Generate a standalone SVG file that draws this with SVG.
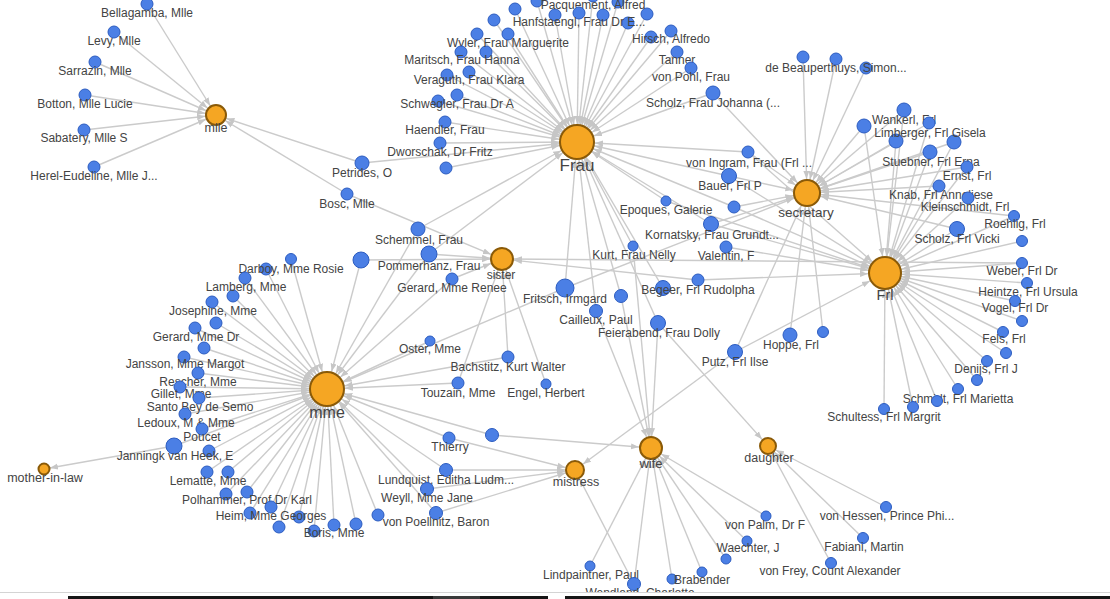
<svg xmlns="http://www.w3.org/2000/svg" width="1110" height="599" viewBox="0 0 1110 599">
<style>
.bg{fill:#fff}
#edges line{stroke:#cbcbcb;stroke-width:1.4;fill:none}
.ah{fill:#c6c6c6}
.n{fill:#4b7fe5;stroke:#2c5cc0;stroke-width:1}
.h{fill:#f5a623;stroke:#8a5a08;stroke-width:2}
text{font-family:"Liberation Sans",Arial,sans-serif;fill:#444;text-anchor:middle}
.t{font-size:12px}
</style>
<defs>
<marker id="a5" viewBox="0 0 20 10" markerUnits="userSpaceOnUse" markerWidth="20" markerHeight="10" refX="14" refY="5" orient="auto"><path class="ah" d="M0,2 L8,5 L0,8 z"/></marker>
<marker id="a8" viewBox="0 0 20 10" markerUnits="userSpaceOnUse" markerWidth="20" markerHeight="10" refX="17" refY="5" orient="auto"><path class="ah" d="M0,2 L8,5 L0,8 z"/></marker>
<marker id="a9" viewBox="0 0 20 10" markerUnits="userSpaceOnUse" markerWidth="20" markerHeight="10" refX="18" refY="5" orient="auto"><path class="ah" d="M0,2 L8,5 L0,8 z"/></marker>
<marker id="a10" viewBox="0 0 20 10" markerUnits="userSpaceOnUse" markerWidth="20" markerHeight="10" refX="19" refY="5" orient="auto"><path class="ah" d="M0,2 L8,5 L0,8 z"/></marker>
<marker id="a11" viewBox="0 0 20 10" markerUnits="userSpaceOnUse" markerWidth="20" markerHeight="10" refX="20" refY="5" orient="auto"><path class="ah" d="M0,2 L8,5 L0,8 z"/></marker>
<marker id="a13" viewBox="0 0 24 10" markerUnits="userSpaceOnUse" markerWidth="24" markerHeight="10" refX="22" refY="5" orient="auto"><path class="ah" d="M0,2 L8,5 L0,8 z"/></marker>
<marker id="a16" viewBox="0 0 28 10" markerUnits="userSpaceOnUse" markerWidth="28" markerHeight="10" refX="25" refY="5" orient="auto"><path class="ah" d="M0,2 L8,5 L0,8 z"/></marker>
<marker id="a17" viewBox="0 0 28 10" markerUnits="userSpaceOnUse" markerWidth="28" markerHeight="10" refX="26" refY="5" orient="auto"><path class="ah" d="M0,2 L8,5 L0,8 z"/></marker>
</defs>
<rect class="bg" x="0" y="0" width="1110" height="599"/>
<g id="edges">
<g marker-end="url(#a10)">
<line x1="147" y1="4" x2="216" y2="115"/><line x1="114" y1="32" x2="216" y2="115"/><line x1="95" y1="62" x2="216" y2="115"/><line x1="85" y1="95" x2="216" y2="115"/><line x1="84" y1="130" x2="216" y2="115"/><line x1="94" y1="167" x2="216" y2="115"/><line x1="362" y1="163" x2="216" y2="115"/><line x1="347" y1="194" x2="216" y2="115"/>
</g>
<g marker-end="url(#a17)">
<line x1="515" y1="9" x2="577" y2="142"/><line x1="537" y1="1" x2="577" y2="142"/><line x1="494" y1="20" x2="577" y2="142"/><line x1="477" y1="34" x2="577" y2="142"/><line x1="508" y1="34" x2="577" y2="142"/><line x1="461" y1="52" x2="577" y2="142"/><line x1="486" y1="52" x2="577" y2="142"/><line x1="447" y1="75" x2="577" y2="142"/><line x1="469" y1="72" x2="577" y2="142"/><line x1="438" y1="101" x2="577" y2="142"/><line x1="457" y1="95" x2="577" y2="142"/><line x1="445" y1="122" x2="577" y2="142"/><line x1="440" y1="143" x2="577" y2="142"/><line x1="446" y1="168" x2="577" y2="142"/><line x1="555" y1="15" x2="577" y2="142"/><line x1="579" y1="13" x2="577" y2="142"/><line x1="603" y1="15" x2="577" y2="142"/><line x1="628" y1="23" x2="577" y2="142"/><line x1="647" y1="14" x2="577" y2="142"/><line x1="593" y1="-4" x2="577" y2="142"/><line x1="618" y1="2" x2="577" y2="142"/><line x1="651" y1="37" x2="577" y2="142"/><line x1="671" y1="31" x2="577" y2="142"/><line x1="677" y1="52" x2="577" y2="142"/><line x1="691" y1="68" x2="577" y2="142"/><line x1="713" y1="93" x2="577" y2="142"/><line x1="362" y1="163" x2="577" y2="142"/><line x1="418" y1="229" x2="577" y2="142"/><line x1="429" y1="254" x2="577" y2="142"/><line x1="565" y1="288" x2="577" y2="142"/><line x1="621" y1="296" x2="577" y2="142"/><line x1="596" y1="311" x2="577" y2="142"/><line x1="658" y1="323" x2="577" y2="142"/><line x1="633" y1="246" x2="577" y2="142"/><line x1="666" y1="201" x2="577" y2="142"/><line x1="711" y1="224" x2="577" y2="142"/><line x1="734" y1="207" x2="577" y2="142"/><line x1="729" y1="176" x2="577" y2="142"/><line x1="748" y1="152" x2="577" y2="142"/><line x1="663" y1="288" x2="577" y2="142"/>
</g>
<g marker-end="url(#a13)">
<line x1="803" y1="57" x2="807" y2="193"/><line x1="836" y1="59" x2="807" y2="193"/><line x1="866" y1="68" x2="807" y2="193"/><line x1="713" y1="93" x2="807" y2="193"/><line x1="748" y1="152" x2="807" y2="193"/><line x1="729" y1="176" x2="807" y2="193"/><line x1="734" y1="207" x2="807" y2="193"/><line x1="711" y1="224" x2="807" y2="193"/><line x1="565" y1="288" x2="807" y2="193"/><line x1="790" y1="335" x2="807" y2="193"/><line x1="823" y1="332" x2="807" y2="193"/><line x1="735" y1="352" x2="807" y2="193"/><line x1="864" y1="126" x2="807" y2="193"/><line x1="904" y1="110" x2="807" y2="193"/><line x1="929" y1="123" x2="807" y2="193"/><line x1="896" y1="141" x2="807" y2="193"/><line x1="954" y1="142" x2="807" y2="193"/><line x1="930" y1="152" x2="807" y2="193"/><line x1="967" y1="167" x2="807" y2="193"/><line x1="939" y1="186" x2="807" y2="193"/><line x1="1014" y1="216" x2="807" y2="193"/><line x1="957" y1="229" x2="807" y2="193"/>
</g>
<g marker-end="url(#a16)">
<line x1="864" y1="126" x2="885" y2="273"/><line x1="904" y1="110" x2="885" y2="273"/><line x1="929" y1="123" x2="885" y2="273"/><line x1="896" y1="141" x2="885" y2="273"/><line x1="954" y1="142" x2="885" y2="273"/><line x1="930" y1="152" x2="885" y2="273"/><line x1="967" y1="167" x2="885" y2="273"/><line x1="939" y1="186" x2="885" y2="273"/><line x1="968" y1="198" x2="885" y2="273"/><line x1="1014" y1="216" x2="885" y2="273"/><line x1="957" y1="229" x2="885" y2="273"/><line x1="1022" y1="241" x2="885" y2="273"/><line x1="1022" y1="263" x2="885" y2="273"/><line x1="1027" y1="283" x2="885" y2="273"/><line x1="1015" y1="301" x2="885" y2="273"/><line x1="1022" y1="321" x2="885" y2="273"/><line x1="1003" y1="332" x2="885" y2="273"/><line x1="1006" y1="353" x2="885" y2="273"/><line x1="987" y1="361" x2="885" y2="273"/><line x1="977" y1="380" x2="885" y2="273"/><line x1="958" y1="389" x2="885" y2="273"/><line x1="937" y1="401" x2="885" y2="273"/><line x1="913" y1="407" x2="885" y2="273"/><line x1="884" y1="409" x2="885" y2="273"/><line x1="711" y1="224" x2="885" y2="273"/><line x1="726" y1="247" x2="885" y2="273"/><line x1="734" y1="207" x2="885" y2="273"/><line x1="698" y1="280" x2="885" y2="273"/><line x1="735" y1="352" x2="885" y2="273"/><line x1="729" y1="176" x2="885" y2="273"/><line x1="748" y1="152" x2="885" y2="273"/><line x1="666" y1="201" x2="885" y2="273"/>
</g>
<g marker-end="url(#a11)">
<line x1="361" y1="260" x2="502" y2="259"/><line x1="429" y1="254" x2="502" y2="259"/><line x1="452" y1="279" x2="502" y2="259"/><line x1="347" y1="194" x2="502" y2="259"/><line x1="508" y1="357" x2="502" y2="259"/><line x1="458" y1="383" x2="502" y2="259"/><line x1="546" y1="384" x2="502" y2="259"/><line x1="698" y1="280" x2="502" y2="259"/><line x1="1022" y1="263" x2="502" y2="259"/>
</g>
<g marker-end="url(#a17)">
<line x1="291" y1="259" x2="327" y2="389"/><line x1="266" y1="269" x2="327" y2="389"/><line x1="245" y1="278" x2="327" y2="389"/><line x1="233" y1="296" x2="327" y2="389"/><line x1="212" y1="302" x2="327" y2="389"/><line x1="216" y1="323" x2="327" y2="389"/><line x1="195" y1="328" x2="327" y2="389"/><line x1="204" y1="348" x2="327" y2="389"/><line x1="184" y1="357" x2="327" y2="389"/><line x1="198" y1="373" x2="327" y2="389"/><line x1="180" y1="387" x2="327" y2="389"/><line x1="199" y1="398" x2="327" y2="389"/><line x1="185" y1="414" x2="327" y2="389"/><line x1="202" y1="429" x2="327" y2="389"/><line x1="174" y1="446" x2="327" y2="389"/><line x1="209" y1="451" x2="327" y2="389"/><line x1="207" y1="472" x2="327" y2="389"/><line x1="228" y1="472" x2="327" y2="389"/><line x1="226" y1="494" x2="327" y2="389"/><line x1="247" y1="492" x2="327" y2="389"/><line x1="250" y1="513" x2="327" y2="389"/><line x1="271" y1="507" x2="327" y2="389"/><line x1="299" y1="517" x2="327" y2="389"/><line x1="279" y1="527" x2="327" y2="389"/><line x1="314" y1="531" x2="327" y2="389"/><line x1="334" y1="525" x2="327" y2="389"/><line x1="356" y1="524" x2="327" y2="389"/><line x1="378" y1="515" x2="327" y2="389"/><line x1="361" y1="260" x2="327" y2="389"/><line x1="418" y1="229" x2="327" y2="389"/><line x1="429" y1="254" x2="327" y2="389"/><line x1="452" y1="279" x2="327" y2="389"/><line x1="430" y1="341" x2="327" y2="389"/><line x1="458" y1="383" x2="327" y2="389"/><line x1="508" y1="357" x2="327" y2="389"/><line x1="565" y1="288" x2="327" y2="389"/><line x1="449" y1="438" x2="327" y2="389"/><line x1="492" y1="435" x2="327" y2="389"/><line x1="446" y1="470" x2="327" y2="389"/><line x1="427" y1="489" x2="327" y2="389"/><line x1="436" y1="513" x2="327" y2="389"/>
</g>
<g marker-end="url(#a5)">
<line x1="174" y1="446" x2="44" y2="469"/>
</g>
<g marker-end="url(#a9)">
<line x1="449" y1="438" x2="575" y2="470"/><line x1="446" y1="470" x2="575" y2="470"/><line x1="427" y1="489" x2="575" y2="470"/><line x1="436" y1="513" x2="575" y2="470"/><line x1="735" y1="352" x2="575" y2="470"/><line x1="634" y1="584" x2="575" y2="470"/>
</g>
<g marker-end="url(#a11)">
<line x1="492" y1="435" x2="651" y2="448"/><line x1="596" y1="311" x2="651" y2="448"/><line x1="621" y1="296" x2="651" y2="448"/><line x1="633" y1="246" x2="651" y2="448"/><line x1="658" y1="323" x2="651" y2="448"/><line x1="590" y1="566" x2="651" y2="448"/><line x1="634" y1="584" x2="651" y2="448"/><line x1="672" y1="579" x2="651" y2="448"/><line x1="702" y1="572" x2="651" y2="448"/><line x1="726" y1="559" x2="651" y2="448"/><line x1="747" y1="541" x2="651" y2="448"/><line x1="766" y1="516" x2="651" y2="448"/>
</g>
<g marker-end="url(#a8)">
<line x1="886" y1="507" x2="768" y2="446"/><line x1="863" y1="538" x2="768" y2="446"/><line x1="831" y1="563" x2="768" y2="446"/><line x1="658" y1="323" x2="768" y2="446"/>
</g>
</g>
<g id="n-bellagamba"><circle class="n" cx="147" cy="4" r="6"/><text class="t" x="147" y="17">Bellagamba, Mlle</text></g>
<g id="n-levy"><circle class="n" cx="114" cy="32" r="6"/><text class="t" x="114" y="45">Levy, Mlle</text></g>
<g id="n-sarrazin"><circle class="n" cx="95" cy="62" r="6"/><text class="t" x="95" y="75">Sarrazin, Mlle</text></g>
<g id="n-botton"><circle class="n" cx="85" cy="95" r="6"/><text class="t" x="85" y="108">Botton, Mlle Lucie</text></g>
<g id="n-sabatery"><circle class="n" cx="84" cy="130" r="6"/><text class="t" x="84" y="142">Sabatery, Mlle S</text></g>
<g id="n-herel"><circle class="n" cx="94" cy="167" r="6"/><text class="t" x="94" y="180">Herel-Eudeline, Mlle J...</text></g>
<g id="n-petrides"><circle class="n" cx="362" cy="163" r="7"/><text class="t" x="362" y="177">Petrides, O</text></g>
<g id="n-bosc"><circle class="n" cx="347" cy="194" r="6"/><text class="t" x="347" y="208">Bosc, Mlle</text></g>
<g id="n-f1"><circle class="n" cx="515" cy="9" r="6"/></g>
<g id="n-f2"><circle class="n" cx="537" cy="1" r="6"/></g>
<g id="n-f3"><circle class="n" cx="494" cy="20" r="6"/></g>
<g id="n-f4"><circle class="n" cx="477" cy="34" r="6"/></g>
<g id="n-f7"><circle class="n" cx="486" cy="52" r="6"/></g>
<g id="n-f8"><circle class="n" cx="447" cy="75" r="6"/></g>
<g id="n-f10"><circle class="n" cx="438" cy="101" r="6"/></g>
<g id="n-f14"><circle class="n" cx="446" cy="168" r="6"/></g>
<g id="n-f15"><circle class="n" cx="555" cy="15" r="6"/></g>
<g id="n-f17"><circle class="n" cx="603" cy="15" r="6"/></g>
<g id="n-f18"><circle class="n" cx="628" cy="23" r="6"/></g>
<g id="n-f19"><circle class="n" cx="647" cy="14" r="6"/></g>
<g id="n-f21"><circle class="n" cx="618" cy="2" r="6"/></g>
<g id="n-f22"><circle class="n" cx="651" cy="37" r="6"/></g>
<g id="n-pacquement"><circle class="n" cx="593" cy="-4" r="6"/><text class="t" x="593" y="9">Pacquement, Alfred</text></g>
<g id="n-hanfstaengl"><circle class="n" cx="579" cy="13" r="6"/><text class="t" x="579" y="26">Hanfstaengl, Frau Dr E...</text></g>
<g id="n-wyler"><circle class="n" cx="508" cy="34" r="6"/><text class="t" x="508" y="47">Wyler, Frau Marguerite</text></g>
<g id="n-maritsch"><circle class="n" cx="461" cy="52" r="6"/><text class="t" x="462" y="64">Maritsch, Frau Hanna</text></g>
<g id="n-veraguth"><circle class="n" cx="469" cy="72" r="6"/><text class="t" x="469" y="84">Veraguth, Frau Klara</text></g>
<g id="n-schwegler"><circle class="n" cx="457" cy="95" r="6"/><text class="t" x="457" y="108">Schwegler, Frau Dr A</text></g>
<g id="n-haendler"><circle class="n" cx="445" cy="122" r="6"/><text class="t" x="445" y="134">Haendler, Frau</text></g>
<g id="n-dworschak"><circle class="n" cx="440" cy="143" r="6"/><text class="t" x="440" y="156">Dworschak, Dr Fritz</text></g>
<g id="n-hirsch"><circle class="n" cx="671" cy="31" r="6"/><text class="t" x="671" y="43">Hirsch, Alfredo</text></g>
<g id="n-tanner"><circle class="n" cx="677" cy="52" r="6"/><text class="t" x="677" y="64">Tanner</text></g>
<g id="n-vonpohl"><circle class="n" cx="691" cy="68" r="6"/><text class="t" x="691" y="81">von Pohl, Frau</text></g>
<g id="n-scholzjohanna"><circle class="n" cx="713" cy="93" r="7"/><text class="t" x="713" y="107">Scholz, Frau Johanna (...</text></g>
<g id="n-s1"><circle class="n" cx="803" cy="57" r="6"/></g>
<g id="n-s3"><circle class="n" cx="866" cy="68" r="6"/></g>
<g id="n-beauperthuys"><circle class="n" cx="836" cy="59" r="6"/><text class="t" x="836" y="72">de Beauperthuys, Simon...</text></g>
<g id="n-r1"><circle class="n" cx="864" cy="126" r="7"/></g>
<g id="n-r4"><circle class="n" cx="896" cy="141" r="7"/></g>
<g id="n-r5"><circle class="n" cx="954" cy="142" r="7"/></g>
<g id="n-wankerl"><circle class="n" cx="904" cy="110" r="7"/><text class="t" x="904" y="124">Wankerl, Frl</text></g>
<g id="n-limberger"><circle class="n" cx="929" cy="123" r="6"/><text class="t" x="930" y="137">Limberger, Frl Gisela</text></g>
<g id="n-stuebner"><circle class="n" cx="930" cy="152" r="7"/><text class="t" x="931" y="166">Stuebner, Frl Erna</text></g>
<g id="n-ernst"><circle class="n" cx="967" cy="167" r="6"/><text class="t" x="967" y="180">Ernst, Frl</text></g>
<g id="n-knab"><circle class="n" cx="939" cy="186" r="6"/><text class="t" x="941" y="199">Knab, Frl Anneliese</text></g>
<g id="n-kleinschmidt"><circle class="n" cx="968" cy="198" r="6"/><text class="t" x="965" y="211">Kleinschmidt, Frl</text></g>
<g id="n-roehlig"><circle class="n" cx="1014" cy="216" r="5.5"/><text class="t" x="1015" y="228">Roehlig, Frl</text></g>
<g id="n-scholzvicki"><circle class="n" cx="957" cy="229" r="7.5"/><text class="t" x="957" y="243">Scholz, Frl Vicki</text></g>
<g id="n-r12"><circle class="n" cx="1022" cy="241" r="5.5"/></g>
<g id="n-weber"><circle class="n" cx="1022" cy="263" r="5.5"/><text class="t" x="1022" y="275">Weber, Frl Dr</text></g>
<g id="n-heintze"><circle class="n" cx="1027" cy="283" r="5.5"/><text class="t" x="1028" y="296">Heintze, Frl Ursula</text></g>
<g id="n-vogel"><circle class="n" cx="1015" cy="301" r="5.5"/><text class="t" x="1015" y="312">Vogel, Frl Dr</text></g>
<g id="n-r16"><circle class="n" cx="1022" cy="321" r="5.5"/></g>
<g id="n-fels"><circle class="n" cx="1003" cy="332" r="5.5"/><text class="t" x="1004" y="343">Fels, Frl</text></g>
<g id="n-r18"><circle class="n" cx="1006" cy="353" r="5.5"/></g>
<g id="n-denijs"><circle class="n" cx="987" cy="361" r="5.5"/><text class="t" x="986" y="373">Denijs, Frl J</text></g>
<g id="n-r20"><circle class="n" cx="977" cy="380" r="5.5"/></g>
<g id="n-schmidt"><circle class="n" cx="958" cy="389" r="5.5"/><text class="t" x="958" y="403">Schmidt, Frl Marietta</text></g>
<g id="n-r22"><circle class="n" cx="937" cy="401" r="5.5"/></g>
<g id="n-r23"><circle class="n" cx="913" cy="407" r="5.5"/></g>
<g id="n-schultess"><circle class="n" cx="884" cy="409" r="5.5"/><text class="t" x="884" y="421">Schultess, Frl Margrit</text></g>
<g id="n-schemmel"><circle class="n" cx="418" cy="229" r="7"/><text class="t" x="419" y="244">Schemmel, Frau</text></g>
<g id="n-m4"><circle class="n" cx="361" cy="260" r="8"/></g>
<g id="n-pommerhanz"><circle class="n" cx="429" cy="254" r="8"/><text class="t" x="429" y="270">Pommerhanz, Frau</text></g>
<g id="n-gerardrenee"><circle class="n" cx="452" cy="279" r="6"/><text class="t" x="452" y="292">Gerard, Mme Renee</text></g>
<g id="n-fritsch"><circle class="n" cx="565" cy="288" r="9"/><text class="t" x="565" y="303">Fritsch, Irmgard</text></g>
<g id="n-m6"><circle class="n" cx="621" cy="296" r="6.5"/></g>
<g id="n-cailleux"><circle class="n" cx="596" cy="311" r="6.5"/><text class="t" x="596" y="324">Cailleux, Paul</text></g>
<g id="n-feierabend"><circle class="n" cx="658" cy="323" r="7.5"/><text class="t" x="659" y="337">Feierabend, Frau Dolly</text></g>
<g id="n-kurt"><circle class="n" cx="633" cy="246" r="5"/><text class="t" x="634" y="259">Kurt, Frau Nelly</text></g>
<g id="n-epoques"><circle class="n" cx="666" cy="201" r="5"/><text class="t" x="666" y="214">Epoques, Galerie</text></g>
<g id="n-m13"><circle class="n" cx="734" cy="207" r="6"/></g>
<g id="n-kornatsky"><circle class="n" cx="711" cy="224" r="7.5"/><text class="t" x="712" y="239">Kornatsky, Frau Grundt...</text></g>
<g id="n-valentin"><circle class="n" cx="726" cy="247" r="6"/><text class="t" x="726" y="260">Valentin, F</text></g>
<g id="n-bauer"><circle class="n" cx="729" cy="176" r="7.5"/><text class="t" x="730" y="190">Bauer, Frl P</text></g>
<g id="n-voningram"><circle class="n" cx="748" cy="152" r="6"/><text class="t" x="749" y="167">von Ingram, Frau (Frl ...</text></g>
<g id="n-m17"><circle class="n" cx="663" cy="288" r="7.5"/></g>
<g id="n-begeer"><circle class="n" cx="698" cy="280" r="6"/><text class="t" x="698" y="294">Begeer, Frl Rudolpha</text></g>
<g id="n-oster"><circle class="n" cx="430" cy="341" r="5"/><text class="t" x="430" y="353">Oster, Mme</text></g>
<g id="n-bachstitz"><circle class="n" cx="508" cy="357" r="6"/><text class="t" x="508" y="371">Bachstitz, Kurt Walter</text></g>
<g id="n-touzain"><circle class="n" cx="458" cy="383" r="6"/><text class="t" x="458" y="397">Touzain, Mme</text></g>
<g id="n-engel"><circle class="n" cx="546" cy="384" r="5"/><text class="t" x="546" y="397">Engel, Herbert</text></g>
<g id="n-putz"><circle class="n" cx="735" cy="352" r="7.5"/><text class="t" x="735" y="366">Putz, Frl Ilse</text></g>
<g id="n-hoppe"><circle class="n" cx="790" cy="335" r="7"/><text class="t" x="791" y="349">Hoppe, Frl</text></g>
<g id="n-m24"><circle class="n" cx="823" cy="332" r="5.5"/></g>
<g id="n-e2"><circle class="n" cx="266" cy="269" r="6"/></g>
<g id="n-darboy"><circle class="n" cx="291" cy="259" r="5.5"/><text class="t" x="291" y="273">Darboy, Mme Rosie</text></g>
<g id="n-e4"><circle class="n" cx="233" cy="296" r="6"/></g>
<g id="n-lamberg"><circle class="n" cx="245" cy="278" r="6"/><text class="t" x="246" y="291">Lamberg, Mme</text></g>
<g id="n-e6"><circle class="n" cx="216" cy="323" r="6"/></g>
<g id="n-josephine"><circle class="n" cx="212" cy="302" r="6"/><text class="t" x="213" y="315">Josephine, Mme</text></g>
<g id="n-e8"><circle class="n" cx="204" cy="348" r="6"/></g>
<g id="n-gerarddr"><circle class="n" cx="195" cy="328" r="6"/><text class="t" x="196" y="341">Gerard, Mme Dr</text></g>
<g id="n-jansson"><circle class="n" cx="184" cy="357" r="6"/><text class="t" x="185" y="368">Jansson, Mme Margot</text></g>
<g id="n-rescher"><circle class="n" cx="198" cy="373" r="6"/><text class="t" x="198" y="386">Rescher, Mme</text></g>
<g id="n-gillet"><circle class="n" cx="180" cy="387" r="6"/><text class="t" x="181" y="398">Gillet, Mme</text></g>
<g id="n-santo"><circle class="n" cx="199" cy="398" r="6"/><text class="t" x="200" y="411">Santo Bey de Semo</text></g>
<g id="n-ledoux"><circle class="n" cx="185" cy="414" r="6"/><text class="t" x="186" y="427">Ledoux, M &amp; Mme</text></g>
<g id="n-poucet"><circle class="n" cx="202" cy="429" r="6"/><text class="t" x="202" y="441">Poucet</text></g>
<g id="n-e16"><circle class="n" cx="209" cy="451" r="6"/></g>
<g id="n-janningk"><circle class="n" cx="174" cy="446" r="8"/><text class="t" x="175" y="460">Janningk van Heek, E</text></g>
<g id="n-e18"><circle class="n" cx="228" cy="472" r="6"/></g>
<g id="n-lematte"><circle class="n" cx="207" cy="472" r="6"/><text class="t" x="208" y="485">Lematte, Mme</text></g>
<g id="n-e19"><circle class="n" cx="226" cy="494" r="6"/></g>
<g id="n-polhammer"><circle class="n" cx="247" cy="492" r="6"/><text class="t" x="247" y="504">Polhammer, Prof Dr Karl</text></g>
<g id="n-e21"><circle class="n" cx="250" cy="513" r="6"/></g>
<g id="n-e23"><circle class="n" cx="299" cy="517" r="6"/></g>
<g id="n-heim"><circle class="n" cx="271" cy="507" r="6"/><text class="t" x="271" y="520">Heim, Mme Georges</text></g>
<g id="n-e24"><circle class="n" cx="279" cy="527" r="6"/></g>
<g id="n-e25"><circle class="n" cx="314" cy="531" r="6"/></g>
<g id="n-e27"><circle class="n" cx="356" cy="524" r="6"/></g>
<g id="n-e28"><circle class="n" cx="378" cy="515" r="6"/></g>
<g id="n-boris"><circle class="n" cx="334" cy="525" r="6"/><text class="t" x="334" y="537">Boris, Mme</text></g>
<g id="n-w2"><circle class="n" cx="492" cy="435" r="6.5"/></g>
<g id="n-thierry"><circle class="n" cx="449" cy="438" r="6"/><text class="t" x="450" y="451">Thierry</text></g>
<g id="n-lundquist"><circle class="n" cx="446" cy="470" r="6.5"/><text class="t" x="446" y="484">Lundquist, Editha Ludm...</text></g>
<g id="n-weyll"><circle class="n" cx="427" cy="489" r="6.5"/><text class="t" x="427" y="502">Weyll, Mme Jane</text></g>
<g id="n-poellnitz"><circle class="n" cx="436" cy="513" r="6.5"/><text class="t" x="436" y="526">von Poellnitz, Baron</text></g>
<g id="n-lindpaintner"><circle class="n" cx="590" cy="566" r="5"/><text class="t" x="591" y="579">Lindpaintner, Paul</text></g>
<g id="n-wendland"><circle class="n" cx="634" cy="584" r="6.5"/><text class="t" x="640" y="597">Wendland, Charlotte</text></g>
<g id="n-w8"><circle class="n" cx="672" cy="579" r="5"/></g>
<g id="n-brabender"><circle class="n" cx="702" cy="572" r="5"/><text class="t" x="702" y="584">Brabender</text></g>
<g id="n-w10"><circle class="n" cx="726" cy="559" r="5"/></g>
<g id="n-waechter"><circle class="n" cx="747" cy="541" r="5"/><text class="t" x="748" y="552">Waechter, J</text></g>
<g id="n-vonpalm"><circle class="n" cx="766" cy="516" r="5"/><text class="t" x="765" y="529">von Palm, Dr F</text></g>
<g id="n-vonhessen"><circle class="n" cx="886" cy="507" r="5.5"/><text class="t" x="887" y="520">von Hessen, Prince Phi...</text></g>
<g id="n-fabiani"><circle class="n" cx="863" cy="538" r="5.5"/><text class="t" x="864" y="551">Fabiani, Martin</text></g>
<g id="n-vonfrey"><circle class="n" cx="831" cy="563" r="5.5"/><text class="t" x="830" y="575">von Frey, Count Alexander</text></g>
<g id="h-mlle"><circle class="h" cx="216" cy="115" r="10"/><text x="216" y="132" font-size="12.5">mlle</text></g>
<g id="h-frau"><circle class="h" cx="577" cy="142" r="17"/><text x="577" y="171" font-size="17">Frau</text></g>
<g id="h-secretary"><circle class="h" cx="807" cy="193" r="13"/><text x="806" y="217" font-size="13.5">secretary</text></g>
<g id="h-frl"><circle class="h" cx="885" cy="273" r="16"/><text x="885" y="300" font-size="14.5">Frl</text></g>
<g id="h-sister"><circle class="h" cx="502" cy="259" r="11"/><text x="501" y="279" font-size="12">sister</text></g>
<g id="h-mme"><circle class="h" cx="327" cy="389" r="17"/><text x="327" y="418" font-size="16">mme</text></g>
<g id="h-motherinlaw"><circle class="h" cx="44" cy="469" r="5.5"/><text x="45" y="482" font-size="12.5">mother-in-law</text></g>
<g id="h-mistress"><circle class="h" cx="575" cy="470" r="9"/><text x="576" y="486" font-size="12.5">mistress</text></g>
<g id="h-wife"><circle class="h" cx="651" cy="448" r="11"/><text x="651" y="468" font-size="13">wife</text></g>
<g id="h-daughter"><circle class="h" cx="768" cy="446" r="8"/><text x="769" y="462" font-size="12.5">daughter</text></g>
<g id="footer">
<rect x="0" y="592" width="1110" height="7" fill="#fff"/>
<line x1="0" y1="592.5" x2="1110" y2="592.5" stroke="#d4d4d4" stroke-width="1"/>
<rect x="68" y="596" width="480" height="3" fill="#151515"/>
<rect x="433" y="596" width="47" height="3" fill="#3a3a3a"/>
<rect x="565" y="596" width="545" height="3" fill="#151515"/>
</g>
</svg>
